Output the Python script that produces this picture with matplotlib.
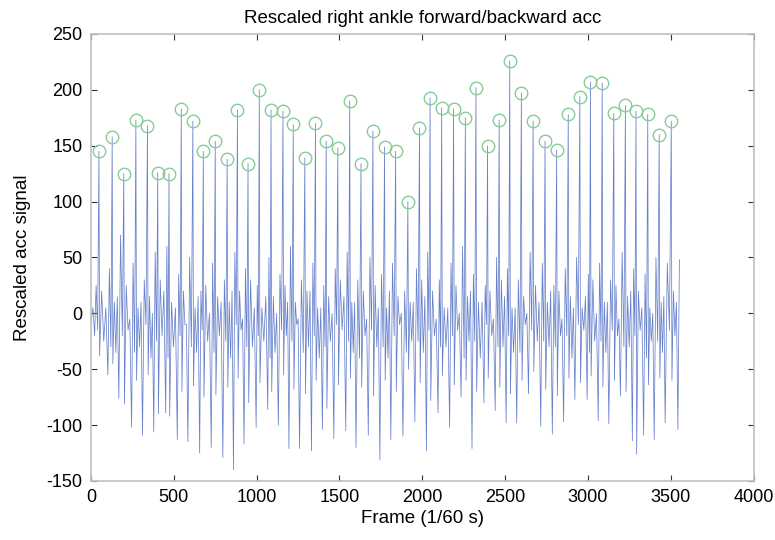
import matplotlib
matplotlib.use("Agg")
import matplotlib.pyplot as plt
import numpy as np

plt.rcParams['font.family'] = ['Liberation Sans', 'DejaVu Sans']
plt.rcParams['axes.unicode_minus'] = False

# peaks marked with circles (frame, rescaled value)
peak_frames = [48, 128, 198, 271, 341, 403, 471, 545, 615, 678, 750, 822, 884, 948,
               1016, 1087, 1159, 1221, 1291, 1355, 1420, 1490, 1562, 1630, 1702, 1772,
               1839, 1913, 1983, 2047, 2117, 2189, 2260, 2324, 2394, 2464, 2528, 2598,
               2669, 2741, 2811, 2881, 2951, 3015, 3086, 3156, 3226, 3290, 3361, 3430, 3503]
peak_vals = [145, 158, 125, 173, 168, 126, 125, 183, 172, 145, 154, 138, 182, 134,
             200, 182, 181, 169, 139, 170, 154, 148, 190, 134, 163, 149,
             145, 100, 166, 193, 184, 183, 175, 202, 150, 173, 226, 197,
             172, 154, 146, 178, 194, 207, 206, 179, 186, 181, 178, 160, 172]

# deep dip just before each peak
trough_frames = [22, 102, 168, 245, 311, 379, 451, 521, 585, 656, 726, 796, 860, 924,
                 997, 1067, 1131, 1195, 1259, 1331, 1397, 1466, 1538, 1600, 1674, 1744,
                 1810, 1883, 1955, 2025, 2095, 2165, 2234, 2300, 2372, 2440, 2506, 2570,
                 2641, 2715, 2785, 2853, 2921, 2995, 3062, 3126, 3196, 3268, 3336, 3400, 3466]
trough_vals = [-20, -55, -76, -102, -109, -106, -89, -113, -115, -125, -120, -129, -140, -117,
               -102, -86, -100, -121, -121, -123, -104, -112, -105, -120, -109, -131,
               -113, -110, -97, -123, -89, -102, -75, -121, -80, -87, -98, -98,
               -72, -101, -108, -97, -77, -77, -96, -99, -74, -114, -109, -113, -98]

# smaller swings inside every stride
pre_bump = [25, 40, 70, 45, 30, 55, 60, 35, 50, 20, 45, 30, 55, 40, 25, 50, 35, 60, 30, 45,
            25, 40, 55, 30, 50, 35, 45, 20, 40, 55, 30, 45, 60, 35, 25, 50, 40, 30, 55, 45,
            25, 40, 50, 35, 45, 30, 55, 40, 35, 50, 45]
pre_dip = [-15, -30, -20, -35, -10, -25, -40, -20, -30, -15, -35, -25, -10, -30, -20, -40,
           -15, -25, -35, -20, -30, -10, -25, -40, -15, -30, -20, -35, -25, -15, -30, -20,
           -40, -25, -10, -30, -20, -35, -15, -25, -30, -20, -10, -35, -25, -15, -30, -20,
           -40, -25, -15]
post_drop = [-38, -45, -81, -60, -55, -90, -92, -70, -65, -75, -73, -66, -58, -80, -62, -70,
             -55, -68, -72, -60, -85, -64, -58, -66, -74, -60, -70, -50, -62, -78, -56, -64,
             -60, -70, -58, -66, -72, -60, -52, -68, -74, -58, -62, -56, -66, -60, -70, -126,
             -64, -58, -60]
mid_a = [20, 10, 25, 5, 15, 30, 10, 20, 5, 25, 15, 10, 20, 30, 5, 15, 25, 10, 20, 5, 15, 30,
         10, 20, 25, 5, 15, 10, 30, 20, 5, 25, 15, 10, 20, 30, 5, 15, 25, 10, 20, 15, 5, 30,
         10, 25, 15, 20, 5, 10, 20]
mid_b = [-25, -35, -15, -30, -40, -20, -30, -10, -35, -25, -20, -40, -15, -30, -25, -35,
         -20, -10, -30, -40, -25, -15, -35, -20, -30, -40, -10, -25, -35, -20, -30, -15,
         -25, -40, -20, -30, -35, -10, -25, -30, -20, -40, -15, -25, -35, -20, -30, -15,
         -25, -35, -20]
mid_c = [5, 15, -5, 10, 0, 20, 5, -10, 15, 0, 10, 20, -5, 5, 15, 0, 10, -5, 20, 5, 0, 15, 10,
         -5, 5, 20, 0, 10, 15, -5, 5, 0, 20, 10, -5, 15, 5, 0, 10, 20, -5, 5, 15, 0, 10, -5,
         20, 5, 0, 15, 10]

head_frames = [1, 12]
head_vals = [-8, 5]
tail_frames = [3543, 3552]
tail_vals = [-104, 48]

# build the polyline vertex by vertex
xs = list(head_frames)
ys = list(head_vals)
n = len(peak_frames)
for k in range(n):
    t, p = trough_frames[k], peak_frames[k]
    xs += [t, t + (p - t) * 0.35, t + (p - t) * 0.7, p, p + 4]
    ys += [trough_vals[k], pre_bump[k], pre_dip[k], peak_vals[k], post_drop[k]]
    nxt = trough_frames[k + 1] if k + 1 < n else tail_frames[0]
    step = (nxt - (p + 4)) / 4.0
    xs += [p + 4 + step, p + 4 + 2 * step, p + 4 + 3 * step]
    ys += [mid_a[k], mid_b[k], mid_c[k]]
xs += tail_frames
ys += tail_vals

fig = plt.figure(figsize=(7.75, 5.4), dpi=100)
ax = fig.add_axes([0.1174, 0.1093, 0.855, 0.8278])

ax.plot(xs, ys, color='#6680cc', lw=0.55)
ax.plot(peak_frames, peak_vals, 'o', ms=9, mfc='none', mec='#88cc99', mew=1.0)

ax.set_xlim(0, 4000)
ax.set_ylim(-150, 250)
ax.set_xticks(np.arange(0, 4001, 500))
ax.set_yticks(np.arange(-150, 251, 50))
ax.tick_params(direction='in', top=True, right=True, length=4, width=0.8,
               color='#333333', labelsize=13, pad=6)
for s in ax.spines.values():
    s.set_color('#c0c0c0')
    s.set_linewidth(1.2)

ax.set_title("Rescaled right ankle forward/backward acc", fontsize=13.5, pad=8)
ax.set_xlabel("Frame (1/60 s)", fontsize=13.5, labelpad=3)
ax.set_ylabel("Rescaled acc signal", fontsize=13.5, labelpad=11)

fig.savefig("out.png", dpi=100)
